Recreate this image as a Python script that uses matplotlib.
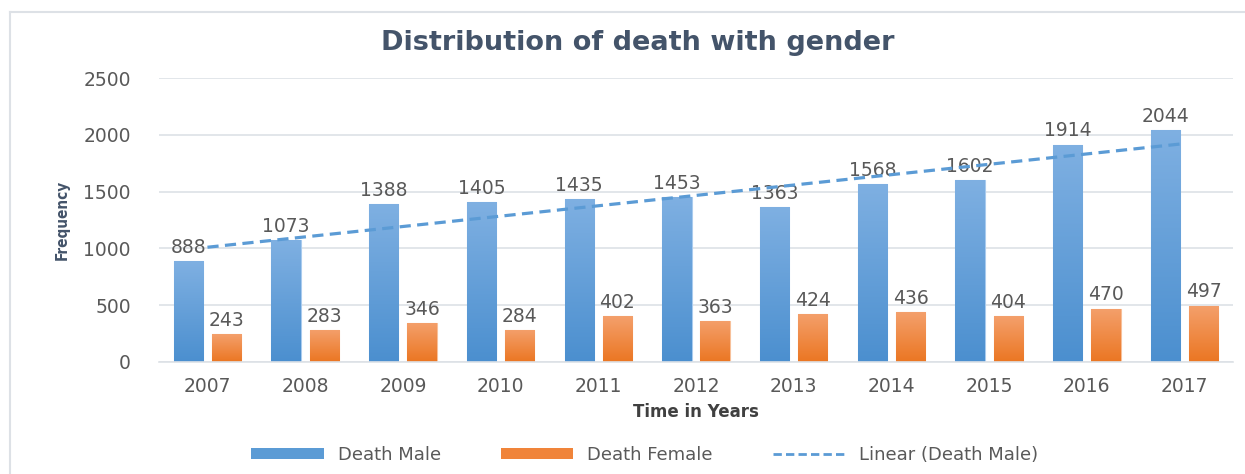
import numpy as np
import matplotlib
matplotlib.use('Agg')
import matplotlib.pyplot as plt
from matplotlib.patches import Patch
from matplotlib.lines import Line2D
from matplotlib.colors import LinearSegmentedColormap

years = ['2007', '2008', '2009', '2010', '2011', '2012',
         '2013', '2014', '2015', '2016', '2017']
death_male = [888, 1073, 1388, 1405, 1435, 1453, 1363, 1568, 1602, 1914, 2044]
death_female = [243, 283, 346, 284, 402, 363, 424, 436, 404, 470, 497]

text_grey = '#595959'
blue_top, blue_bot = '#7fb0e2', '#4b8fcf'
orange_top, orange_bot = '#f4a06c', '#eb7622'


def gradient_bars(ax, bars, top, bottom):
    cmap = LinearSegmentedColormap.from_list('g', [bottom, top])
    grad = np.linspace(0, 1, 256).reshape(-1, 1)
    for b in bars:
        x0, y0 = b.get_x(), b.get_y()
        x1, y1 = x0 + b.get_width(), y0 + b.get_height()
        im = ax.imshow(grad, cmap=cmap, extent=[x0, x1, y0, y1],
                       origin='lower', aspect='auto', zorder=2.5)
        im.set_clip_path(b)


fig = plt.figure(figsize=(12.45, 4.74), dpi=100)
ax = fig.add_axes([0.1274, 0.2363, 0.8633, 0.5991])

x = np.arange(len(years))
w = 0.30
off = 0.195
male_bars = ax.bar(x - off, death_male, w, color=blue_bot,
                   edgecolor='#a9cbee', linewidth=0.8, zorder=2)
female_bars = ax.bar(x + off, death_female, w, color=orange_bot,
                     edgecolor='#f7c09a', linewidth=0.8, zorder=2)
gradient_bars(ax, male_bars, blue_top, blue_bot)
gradient_bars(ax, female_bars, orange_top, orange_bot)

ax.bar_label(male_bars, padding=3, fontsize=13.5, color=text_grey)
ax.bar_label(female_bars, padding=3, fontsize=13.5, color=text_grey)

# linear trend of male deaths
coef = np.polyfit(x, death_male, 1)
trend = np.polyval(coef, x)
ax.plot(x, trend, color='#5b9bd5', lw=2.3, ls=(0, (3.5, 2)), zorder=4)

ax.set_xlim(-0.5, len(years) - 0.5)
ax.set_ylim(0, 2500)
ax.set_yticks(range(0, 2501, 500))
ax.set_xticks(x)
ax.set_xticklabels(years)
ax.tick_params(length=0, labelsize=13.5, labelcolor=text_grey)
ax.tick_params(axis='y', pad=20)
ax.tick_params(axis='x', pad=11)
ax.grid(axis='y', color='#dde1e6', lw=1.2, zorder=0)
ax.set_axisbelow(True)
for s in ['top', 'right', 'left']:
    ax.spines[s].set_visible(False)
ax.spines['bottom'].set_color('#dde1e6')
ax.spines['bottom'].set_linewidth(1.2)

ax.set_xlabel('Time in Years', fontsize=12, fontweight='bold',
              color='#404040', labelpad=5)
ax.set_ylabel('Frequency', fontsize=11, fontweight='bold', color='#44546a',
              fontstretch='condensed', labelpad=10)

fig.text(0.512, 0.91, 'Distribution of death with gender', ha='center',
         va='center', fontsize=19.5, fontweight='bold', color='#44546a')

handles = [Patch(facecolor='#5b9bd5', edgecolor='none'),
           Patch(facecolor='#f0843a', edgecolor='none'),
           Line2D([0], [0], color='#5b9bd5', lw=2, ls=(0, (3, 1.5)))]
labels = ['Death Male', 'Death Female', 'Linear (Death Male)']
fig.legend(handles, labels, loc='center', bbox_to_anchor=(0.518, 0.04),
           ncol=3, frameon=False, fontsize=13, labelcolor=text_grey,
           columnspacing=3.3, handlelength=4.0, handleheight=0.5)

# chart border
fig.add_artist(Line2D([0.008, 1], [0.975, 0.975], color='#dde1e6', lw=1.5))
fig.add_artist(Line2D([0.008, 0.008], [0, 0.975], color='#dde1e6', lw=1.5))

fig.savefig('out.png', dpi=100)
